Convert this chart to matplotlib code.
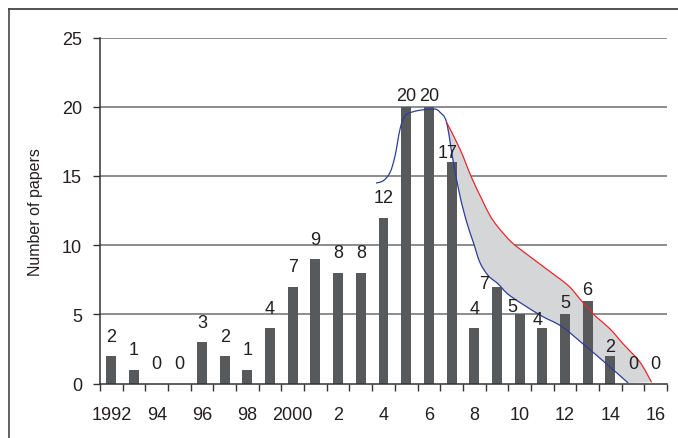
import matplotlib
matplotlib.use("Agg")
import matplotlib.pyplot as plt
from matplotlib.lines import Line2D
from matplotlib.path import Path
from matplotlib.patches import PathPatch

plt.rcParams['font.family'] = ['Liberation Sans Narrow', 'Liberation Sans', 'DejaVu Sans']

# ---- data ----
years = list(range(1992, 2017))
counts = [2, 1, 0, 0, 3, 2, 1, 4, 7, 9, 8, 8, 12, 20, 20, 16, 4, 7, 5, 4, 5, 6, 2, 0, 0]
count_labels = ["2", "1", "0", "0", "3", "2", "1", "4", "7", "9", "8", "8", "12",
                "20", "20", "17", "4", "7", "5", "4", "5", "6", "2", "0", "0"]
tick_years = [1992, 1994, 1996, 1998, 2000, 2002, 2004, 2006, 2008, 2010, 2012, 2014, 2016]
tick_labels = ["1992", "94", "96", "98", "2000", "2", "4", "6", "8", "10", "12", "14", "16"]
y_ticks = [0, 5, 10, 15, 20, 25]

# lower (blue) curve
blue_x = [2003.67, 2003.99, 2004.29, 2004.51, 2004.73, 2004.95, 2005.31, 2005.75, 2006.27,
          2006.49, 2006.78, 2007.08, 2007.37, 2007.67, 2007.96, 2008.25, 2008.62,
          2009.06, 2009.58, 2010.90, 2011.85, 2012.80, 2013.84, 2014.79]
blue_y = [14.49, 14.66, 15.26, 16.46, 18.39, 19.35, 19.64, 19.78, 19.83,
          19.60, 18.87, 15.99, 13.57, 11.65, 10.21, 8.76, 7.80,
          7.20, 6.35, 4.96, 4.14, 2.87, 1.42, 0.05]
# upper (red) curve
red_x = [2006.78, 2007.37, 2007.88, 2008.33, 2008.70, 2009.06, 2009.65, 2010.31, 2011.19,
         2012.15, 2012.66, 2013.25, 2013.99, 2014.57, 2015.31, 2015.82]
red_y = [18.87, 16.95, 14.90, 13.34, 12.13, 11.29, 10.21, 9.36, 8.28,
         7.08, 6.12, 5.03, 3.95, 2.87, 1.55, 0.10]

# per-label nudges (pixels): default label centre 20 px above bar top
label_nudge = {2005: (0, 11), 2006: (0, 11), 2007: (-4, 10), 2009: (-13, 3),
               2010: (-7, 8), 2011: (-5, 8.6), 2012: (0, 12), 2013: (0, 11), 2014: (0, 10)}


def smooth_path_codes(xs, ys, start_code=Path.MOVETO):
    """Catmull-Rom curve through the given points expressed as cubic Bezier segments."""
    pts = list(zip(xs, ys))
    verts = [pts[0]]
    codes = [start_code]
    n = len(pts)
    for i in range(n - 1):
        p0 = pts[i - 1] if i > 0 else pts[i]
        p1 = pts[i]
        p2 = pts[i + 1]
        p3 = pts[i + 2] if i + 2 < n else pts[i + 1]
        c1 = (p1[0] + (p2[0] - p0[0]) / 6, p1[1] + (p2[1] - p0[1]) / 6)
        c2 = (p2[0] - (p3[0] - p1[0]) / 6, p2[1] - (p3[1] - p1[1]) / 6)
        verts += [c1, c2, p2]
        codes += [Path.CURVE4] * 3
    return verts, codes


# ---- figure ----
W, H = 678, 439
fig = plt.figure(figsize=(W / 100, H / 100), dpi=100)
ax = fig.add_axes([100 / W, 1 - 384.7 / H, 567 / W, 346.2 / H])

# outer frame (left and top only visible)
fig.add_artist(Line2D([8.5 / W, 8.5 / W], [0, 1 - 10 / H], transform=fig.transFigure,
                      color="#555555", lw=1.3))
fig.add_artist(Line2D([8.5 / W, 1], [1 - 10 / H, 1 - 10 / H], transform=fig.transFigure,
                      color="#444444", lw=1.3))

# gridlines
for yv in y_ticks[1:]:
    ax.axhline(yv, color="#6d6d6d", lw=1.1, zorder=0)

# shaded band between curves
k = blue_x.index(red_x[0])
rv, rc = smooth_path_codes(red_x, red_y)
bv, bc = smooth_path_codes(blue_x[k:][::-1], blue_y[k:][::-1], start_code=Path.LINETO)
band = Path(rv + bv + [rv[0]], rc + bc + [Path.CLOSEPOLY])
ax.add_patch(PathPatch(band, facecolor="#d5d6d8", edgecolor="none", zorder=1))

ax.bar(years, counts, width=0.44, color="#58595b", zorder=2)

v, c = smooth_path_codes(blue_x, blue_y)
ax.add_patch(PathPatch(Path(v, c), facecolor="none", edgecolor="#2b3f9a", lw=0.9, zorder=3))
v, c = smooth_path_codes(red_x, red_y)
ax.add_patch(PathPatch(Path(v, c), facecolor="none", edgecolor="#e8262b", lw=0.9, zorder=3))

px2pt = 72 / 100
for yr, cnt, lab in zip(years, counts, count_labels):
    dx, dy = label_nudge.get(yr, (0, 20))
    ax.annotate(lab, (yr, cnt), xytext=(dx * px2pt, dy * px2pt), textcoords="offset points",
                ha="center", va="center", fontsize=13, color="#231f20", zorder=4)

ax.set_xlim(1991.5, 2016.5)
ax.set_ylim(0, 25)

ax.set_yticks(y_ticks)
ax.set_yticklabels([str(v) for v in y_ticks], fontsize=13, color="#231f20")
ax.set_xticks(tick_years)
ax.set_xticklabels(tick_labels, fontsize=13, color="#231f20")
ax.tick_params(axis="x", length=0, pad=16)
ax.set_xticks([y - 0.5 for y in years] + [2016.5], minor=True)
ax.tick_params(axis="x", which="minor", length=5, width=1, color="#333333", direction="out")
ax.tick_params(axis="y", length=5, width=1, color="#333333", direction="out", pad=8)

for s in ["top", "right"]:
    ax.spines[s].set_visible(False)
ax.spines["left"].set_color("#333333")
ax.spines["bottom"].set_color("#333333")
ax.spines["left"].set_linewidth(1.1)
ax.spines["bottom"].set_linewidth(1.1)

ax.set_ylabel("Number of papers", fontsize=11.5, color="#231f20")
ax.yaxis.set_label_coords(-(100 - 43) / 567, 0.5)

fig.savefig("out.png", dpi=100)
